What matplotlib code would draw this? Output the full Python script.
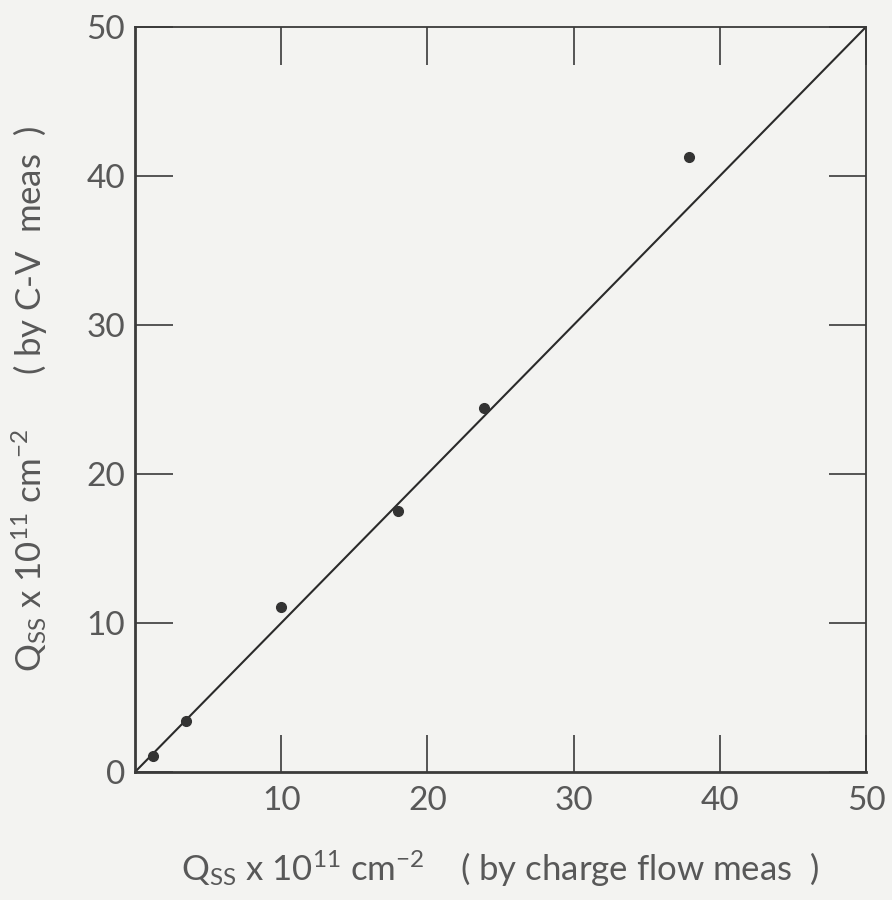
import numpy as np
import matplotlib.pyplot as plt

# Qss measured two ways, units of 1e11 cm^-2
q_charge_flow = [1.2, 3.5, 10.0, 18.0, 23.9, 37.9]
q_cv = [1.1, 3.4, 11.1, 17.5, 24.4, 41.3]
ideal = [0, 50]

xticks = [10, 20, 30, 40, 50]
yticks = [0, 10, 20, 30, 40, 50]

ink = '#3a3a3a'
txt = '#585858'
plt.rcParams['font.family'] = ['Lato', 'DejaVu Sans']
plt.rcParams['mathtext.default'] = 'regular'

fig = plt.figure(figsize=(8.92, 9), dpi=100, facecolor='#f3f3f1')
ax = fig.add_axes([0.1513, 0.1422, 0.8195, 0.8278], facecolor='#f3f3f1')

ax.plot(ideal, ideal, color='#2a2a2a', lw=1.5)
ax.plot(q_charge_flow, q_cv, 'o', color='#333333', ms=7)

ax.set_xlim(0, 50)
ax.set_ylim(0, 50)
ax.set_xticks(xticks)
ax.set_yticks(yticks)
ax.tick_params(direction='in', length=27, width=1.2, color=ink,
               top=True, right=True, labelsize=24, labelcolor=txt)
ax.tick_params(axis='x', pad=10)
ax.tick_params(axis='y', pad=7)
for side in ax.spines:
    ax.spines[side].set_color(ink)
ax.spines['left'].set_linewidth(2)
ax.spines['bottom'].set_linewidth(2)
ax.spines['top'].set_linewidth(1.3)
ax.spines['right'].set_linewidth(1.3)

ax.set_xlabel('Q$_{SS}$ x 10$^{11}$ cm$^{-2}$    ( by charge flow meas  )',
              fontsize=25, color=txt, labelpad=24)
ax.set_ylabel('Q$_{SS}$ x 10$^{11}$ cm$^{-2}$      ( by C-V  meas  )',
              fontsize=25, color=txt, labelpad=26)

fig.savefig('out.png', dpi=100, facecolor=fig.get_facecolor())
